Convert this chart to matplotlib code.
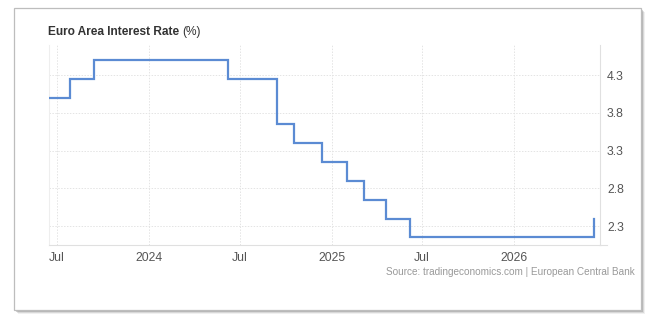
import matplotlib
matplotlib.use("Agg")
import matplotlib.pyplot as plt
from matplotlib.patches import Rectangle
import pandas as pd

# Data
dates = ["2023-06-15", "2023-07-27", "2023-09-13", "2024-06-07", "2024-09-13",
         "2024-10-18", "2024-12-13", "2025-02-01", "2025-03-07", "2025-04-19",
         "2025-06-06", "2026-06-10"]
rates = [4.00, 4.25, 4.50, 4.25, 3.65, 3.40, 3.15, 2.90, 2.65, 2.40, 2.15, 2.40]
y_ticks = [2.3, 2.8, 3.3, 3.8, 4.3]
x_tick_dates = ["2023-07-01", "2024-01-01", "2024-07-01", "2025-01-01", "2025-07-01", "2026-01-01"]
x_tick_labels = ["Jul", "2024", "Jul", "2025", "Jul", "2026"]
title_main = "Euro Area Interest Rate"
title_unit = "(%)"
source = "Source: tradingeconomics.com | European Central Bank"

plt.rcParams['font.family'] = ['Liberation Sans', 'DejaVu Sans']

W, H = 648, 314
fig = plt.figure(figsize=(W/100, H/100), dpi=100)
fig.patch.set_facecolor('white')

def fx(px): return px / W
def fy(py): return 1 - py / H

# Card with shadow
for off, a in [(4, 0.10), (3, 0.18), (2, 0.30), (1, 0.45)]:
    fig.patches.append(Rectangle((fx(14 + off), fy(310 + off)), fx(627), 302 / H,
                                 transform=fig.transFigure, facecolor='#707070',
                                 edgecolor='none', alpha=a, zorder=0))
fig.patches.append(Rectangle((fx(14), fy(310)), fx(627), 302 / H,
                             transform=fig.transFigure, facecolor='white',
                             edgecolor='#bdbdbd', linewidth=0.9, zorder=1))

left, right, top, bottom = 49, 600, 45, 245
ax = fig.add_axes([fx(left), fy(bottom), fx(right - left), (bottom - top) / H])
ax.set_zorder(2)
ax.patch.set_alpha(0)

d = pd.to_datetime(dates)
ax.plot(d, rates, drawstyle='steps-post', color='#5b8bd3', linewidth=1.6,
        solid_joinstyle='miter', zorder=3)

ax.set_xlim(pd.Timestamp("2023-06-15"), pd.Timestamp("2026-06-22"))
ax.set_ylim(2.05, 4.70)

ax.set_xticks(pd.to_datetime(x_tick_dates))
ax.set_xticklabels(x_tick_labels)
ax.set_yticks(y_ticks)
ax.set_yticklabels([f"{v:.1f}" for v in y_ticks])
ax.yaxis.tick_right()
ax.tick_params(axis='both', length=0, labelsize=8.8, colors='#555555')
ax.tick_params(axis='x', pad=5)
ax.tick_params(axis='y', pad=5)

ax.grid(True, color='#e4e4e4', linestyle=(0, (1.5, 1.5)), linewidth=0.7)
ax.spines['top'].set_visible(False)
for s in ['left', 'right', 'bottom']:
    ax.spines[s].set_color('#e0e0e0')
    ax.spines[s].set_linewidth(0.8)
ax.spines['left'].set_color('#eeeeee')

# extension of bottom axis line
fig.add_artist(plt.Line2D([fx(600), fx(607)], [fy(245), fy(245)], color='#e0e0e0',
                          linewidth=0.8, transform=fig.transFigure, zorder=2))

t1 = fig.text(fx(48), fy(35), title_main, fontsize=8.6, fontweight='bold',
              color='#333333', va='baseline', ha='left', zorder=3)
fig.canvas.draw()
bb = t1.get_window_extent()
fig.text(bb.x1 / W + fx(3), fy(35), title_unit, fontsize=8.6, color='#333333',
         va='baseline', ha='left', zorder=3)

fig.text(fx(635), fy(275), source, fontsize=7.2, color='#999999', ha='right',
         va='baseline', zorder=3)

fig.savefig("out.png", dpi=100, facecolor='white')
